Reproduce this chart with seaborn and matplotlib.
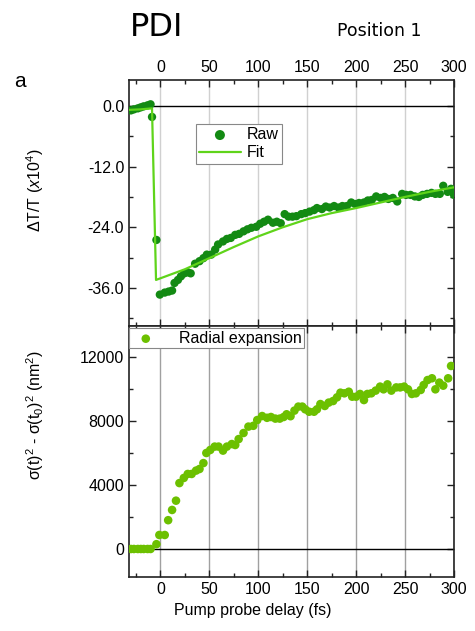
""" PDI position 1: transient transmission and radial expansion """

import matplotlib
matplotlib.use('Agg')
import matplotlib.pyplot as plt
from matplotlib.ticker import MultipleLocator
import seaborn as sns

# Raw dT/T points (x1e4)
raw_delay = [-30, -27, -23, -20, -17, -13, -10, -8.5, -4, -0.5, 4.5, 8.5, 12, 14.5,
             18, 21, 24.5, 28, 31, 35.5, 40, 44, 47.5, 52, 56, 59, 64, 68, 72,
             76.5, 80.5, 85, 89, 93, 98, 102, 106, 110, 115, 119, 123, 127, 131,
             135, 139, 144, 148, 152.5, 157, 160, 165, 169, 173, 177.5, 182, 186,
             190.5, 195, 199, 203, 208, 212, 216, 220.5, 225, 229, 233, 237.5,
             242, 247, 251, 255.5, 260, 264, 268, 272.5, 277, 281, 285.5, 289,
             293.5, 297, 300]
raw_dtt = [-0.9, -0.7, -0.5, -0.3, -0.1, 0.1, 0.3, -2.2, -26.5, -37.3, -36.9, -36.7,
           -36.5, -35.0, -34.4, -33.7, -33.1, -32.9, -33.1, -31.2, -30.7, -30.1,
           -29.4, -29.4, -28.4, -27.4, -26.8, -26.3, -26.1, -25.5, -25.3, -24.8,
           -24.4, -24.1, -23.9, -23.3, -22.9, -22.5, -23.1, -22.9, -23.2, -21.4,
           -21.9, -21.9, -21.8, -21.4, -21.2, -20.9, -20.6, -20.2, -20.4, -19.9,
           -20.1, -19.8, -20.1, -19.8, -19.8, -19.1, -19.4, -19.2, -19.1, -18.7,
           -18.6, -17.9, -18.2, -18.0, -18.4, -18.2, -18.9, -17.4, -17.6, -17.6,
           -17.9, -18.0, -17.6, -17.4, -17.2, -17.4, -17.4, -15.8, -17.0, -16.4,
           -17.6]

# Fit curve
fit_delay = [-32, -20, -8.5, -4.4, 25, 50, 75, 100, 125, 150, 175, 200, 225, 250, 275, 300]
fit_dtt = [-0.8, -0.7, -0.5, -34.4, -32.3, -30.1, -27.9, -25.8, -24.0, -22.4, -21.2,
           -20.2, -19.1, -18.0, -17.0, -16.1]

# Radial expansion sigma(t)^2 - sigma(t0)^2 (nm^2)
rad_delay = [-30, -27, -23, -20, -17, -13, -10, -4, -1, 4.5, 8, 12, 16, 19.5, 24, 28,
             32, 36.5, 40, 44, 47, 51, 55.5, 59.5, 64, 68, 73, 76.5, 80, 85, 90,
             95, 99, 104, 109, 113, 117.5, 122, 126, 129, 133, 137, 141, 145, 148,
             152, 157, 160, 163.5, 168, 172, 176.5, 180.5, 184, 188, 192.5, 196,
             200, 204, 208, 211.5, 215.5, 220, 224.5, 228, 232, 236, 241, 245, 249,
             253, 257, 261, 266, 269, 273, 277.5, 281, 285, 289, 294, 297]
rad_sigma = [0, 0, 0, 0, 0, 0, 0, 300, 875, 875, 1800, 2440, 3020, 4120, 4440, 4690,
             4690, 4900, 5000, 5370, 6000, 6190, 6400, 6400, 6150, 6400, 6560, 6500,
             6870, 7250, 7650, 7700, 8060, 8310, 8200, 8250, 8150, 8150, 8250, 8420,
             8300, 8650, 8900, 8900, 8730, 8580, 8580, 8730, 9060, 8940, 9150, 9250,
             9480, 9770, 9730, 9830, 9520, 9520, 9690, 9310, 9690, 9730, 9900, 10150,
             9980, 10290, 9900, 10100, 10100, 10150, 9980, 9690, 9730, 9940, 10250,
             10560, 10670, 9980, 10400, 10210, 10670, 11440]

RAW_COLOUR = '#138a13'
FIT_COLOUR = '#5fd41a'
RAD_COLOUR = '#6cc000'
FONT = {'fontsize': 11.5, 'color': 'black'}

sns.set_style('ticks')
plt.rcParams['font.family'] = ['Liberation Sans', 'DejaVu Sans']
plt.rcParams['mathtext.fontset'] = 'custom'
plt.rcParams['mathtext.rm'] = 'Liberation Sans'
plt.rcParams['mathtext.it'] = 'Liberation Sans:italic'
plt.rcParams['text.color'] = 'black'
plt.rcParams['legend.labelcolor'] = 'black'

fig = plt.figure(figsize=(4.75, 6.31), dpi=100)
ax1 = fig.add_axes([0.2716, 0.4834, 0.6842, 0.3898])
ax2 = fig.add_axes([0.2716, 0.0856, 0.6842, 0.3978])

# top panel
sns.scatterplot(x=raw_delay, y=raw_dtt, ax=ax1, color=RAW_COLOUR, s=36,
                edgecolor='none', label='Raw', zorder=3)
sns.lineplot(x=fit_delay, y=fit_dtt, ax=ax1, color=FIT_COLOUR, lw=1.6,
             label='Fit', zorder=4)
ax1.axhline(0, color='black', lw=1, zorder=2)
ax1.set_ylim(-43.5, 5.1)
ax1.set_yticks([0, -12, -24, -36])
ax1.set_yticklabels(['0.0', '-12.0', '-24.0', '-36.0'])
ax1.yaxis.set_minor_locator(MultipleLocator(6))
ax1.grid(axis='x', which='major', color='#d0d0d0', lw=1)
ax1.tick_params(axis='x', which='both', top=True, bottom=True,
                labeltop=True, labelbottom=False)
ax1.set_ylabel(r'ΔT/T $\mathit{(x10^{4})}$', **FONT)
ax1.yaxis.set_label_coords(-0.255, 0.55)
leg = ax1.legend(loc='upper left', bbox_to_anchor=(0.206, 0.821), borderaxespad=0,
                 fancybox=False, edgecolor='#888888', framealpha=1, fontsize=11.5,
                 handlelength=2.6, borderpad=0.2, labelspacing=0.2, handletextpad=0.4,
                 markerscale=1.2)
leg.get_frame().set_linewidth(0.8)

# bottom panel
sns.scatterplot(x=rad_delay, y=rad_sigma, ax=ax2, color=RAD_COLOUR, s=38,
                edgecolor='none', label='Radial expansion', zorder=3)
ax2.axhline(0, color='black', lw=1, zorder=2)
ax2.set_ylim(-1750, 13940)
ax2.set_yticks([0, 4000, 8000, 12000])
ax2.yaxis.set_minor_locator(MultipleLocator(2000))
ax2.grid(axis='x', which='major', color='#a0a0a0', lw=1)
ax2.tick_params(axis='x', which='both', top=True, bottom=True)
ax2.set_ylabel(r'σ(t)$^2$ - σ(t$_0$)$^2$ (nm$^2$)', **FONT)
ax2.yaxis.set_label_coords(-0.255, 0.645)
ax2.set_xlabel('Pump probe delay (fs)', **FONT)
ax2.xaxis.set_label_coords(0.38, -0.105)
leg2 = ax2.legend(loc='upper left', bbox_to_anchor=(0.0, 0.99), borderaxespad=0,
                  fancybox=False, edgecolor='#888888', framealpha=1, fontsize=11.5,
                  handlelength=1.8, borderpad=0.15, handletextpad=1.2)
leg2.get_frame().set_linewidth(0.8)

for ax in (ax1, ax2):
    ax.set_xlim(-32, 300)
    ax.set_xticks(range(0, 301, 50))
    ax.xaxis.set_minor_locator(MultipleLocator(25))
    ax.tick_params(which='both', direction='in', left=True, right=True,
                   labelsize=11.5, color='#222222', labelcolor='black')
    ax.tick_params(which='major', length=5, width=1)
    ax.tick_params(which='minor', length=3, width=1)
    for spine in ax.spines.values():
        spine.set_visible(True)
        spine.set_linewidth(1.2)
        spine.set_color('#222222')

fig.text(0.33, 0.943, 'PDI', fontsize=23, family='DejaVu Sans', ha='center')
fig.text(0.798, 0.943, 'Position 1', fontsize=12.5, family='DejaVu Sans', ha='center')
fig.text(0.03, 0.862, 'a', fontsize=15)

fig.savefig('out.png', dpi=100)
